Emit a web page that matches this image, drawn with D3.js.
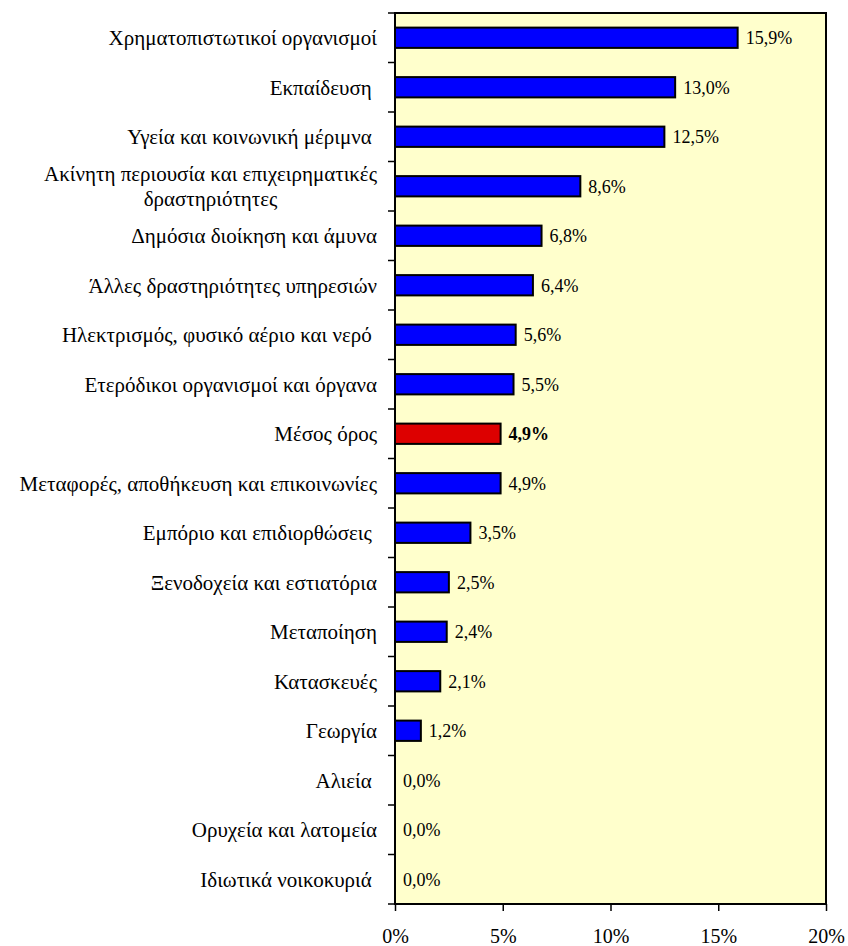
<!DOCTYPE html>
<meta charset="utf-8">
<script src="https://d3js.org/d3.v7.min.js"></script>
<style>
  body { margin: 0; background: #fff; }
  text { font-family: "Liberation Serif", "Times New Roman", serif; fill: #000; }
</style>
<div id="chart"></div>
<script>

// categories (top to bottom) and their shares
var categories = [
  "Χρηματοπιστωτικοί οργανισμοί",
  "Εκπαίδευση ",
  "Υγεία και κοινωνική μέριμνα ",
  "Ακίνητη περιουσία και επιχειρηματικές|δραστηριότητες",
  "Δημόσια διοίκηση και άμυνα",
  "Άλλες δραστηριότητες υπηρεσιών",
  "Ηλεκτρισμός, φυσικό αέριο και νερό ",
  "Ετερόδικοι οργανισμοί και όργανα",
  "Μέσος όρος",
  "Μεταφορές, αποθήκευση και επικοινωνίες",
  "Εμπόριο και επιδιορθώσεις ",
  "Ξενοδοχεία και εστιατόρια",
  "Μεταποίηση",
  "Κατασκευές",
  "Γεωργία",
  "Αλιεία ",
  "Ορυχεία και λατομεία",
  "Ιδιωτικά νοικοκυριά "
];
var values = [15.9, 13.0, 12.5, 8.6, 6.8, 6.4, 5.6, 5.5, 4.9, 4.9, 3.5, 2.5, 2.4, 2.1, 1.2, 0.0, 0.0, 0.0];
var averageLabel = "Μέσος όρος";
var xTicks = [0, 5, 10, 15, 20];

var W = 848, H = 946;
var margin = {top: 13, right: 22, bottom: 42, left: 395},
    width = W - margin.left - margin.right,
    height = H - margin.top - margin.bottom;

var svg = d3.select("#chart").append("svg")
    .attr("width", W).attr("height", H)
  .append("g")
    .attr("transform", "translate(" + margin.left + "," + margin.top + ")");

var x = d3.scaleLinear().domain([0, 20]).range([0, width]);
var y = d3.scaleBand().domain(categories).range([0, height]).paddingInner(0.59).paddingOuter(0.295);

var fmt = function(v) { return v.toFixed(1).replace(".", ",") + "%"; };

// plot background
svg.append("rect")
  .attr("width", width).attr("height", height)
  .attr("fill", "#ffffcc");

// bars
svg.selectAll(".bar")
  .data(values)
  .enter().append("rect")
    .attr("x", 0)
    .attr("y", function(d, i) { return y(categories[i]); })
    .attr("width", function(d) { return x(d); })
    .attr("height", y.bandwidth())
    .attr("fill", function(d, i) { return categories[i] === averageLabel ? "#dd0000" : "#0000ff"; })
    .attr("stroke", "#000")
    .attr("stroke-width", function(d) { return d > 0 ? 2 : 0; });

// value labels
svg.selectAll(".val")
  .data(values)
  .enter().append("text")
    .attr("x", function(d) { return x(d) + 8; })
    .attr("y", function(d, i) { return y(categories[i]) + y.bandwidth() / 2; })
    .attr("dy", "0.35em")
    .style("font-size", "18px")
    .style("font-weight", function(d, i) { return categories[i] === averageLabel ? "bold" : "normal"; })
    .text(fmt);

// frame
svg.append("rect")
  .attr("width", width).attr("height", height)
  .attr("fill", "none").attr("stroke", "#000").attr("stroke-width", 2);

// category ticks on band boundaries
svg.selectAll(".ytick")
  .data(d3.range(categories.length + 1))
  .enter().append("line")
    .attr("x1", -7).attr("x2", 0)
    .attr("y1", function(i) { return i * height / categories.length; })
    .attr("y2", function(i) { return i * height / categories.length; })
    .attr("stroke", "#000").attr("stroke-width", 1.5);

// category labels (two-line label is centred as a block)
var labelRight = -18;
svg.selectAll(".cat")
  .data(categories)
  .enter().append("text")
    .attr("xml:space", "preserve")
    .style("white-space", "pre")
    .style("font-size", "21px")
    .attr("transform", function(d) { return "translate(0," + (y(d) + y.bandwidth() / 2) + ")"; })
    .each(function(d) {
      var lines = d.split("|");
      var t = d3.select(this);
      if (lines.length === 1) {
        t.attr("text-anchor", "end").append("tspan")
          .attr("x", labelRight).attr("dy", "0.35em").text(d);
        return;
      }
      var first = t.append("tspan").attr("text-anchor", "end")
        .attr("x", labelRight).attr("y", -12.5).attr("dy", "0.35em").text(lines[0]);
      var w = first.node().getComputedTextLength();
      t.append("tspan").attr("text-anchor", "middle")
        .attr("x", labelRight - w / 2).attr("y", 12.5).attr("dy", "0.35em").text(lines[1]);
    });

// x axis
var xAxis = svg.append("g")
  .attr("transform", "translate(0," + height + ")")
  .call(d3.axisBottom(x).tickValues(xTicks).tickSize(7).tickSizeOuter(0)
        .tickFormat(function(d) { return d + "%"; }));
xAxis.select(".domain").remove();
xAxis.selectAll("line").attr("stroke-width", 1.5);
xAxis.selectAll("text")
  .style("font-family", '"Liberation Serif", "Times New Roman", serif')
  .style("font-size", "20px")
  .attr("dy", "1.45em");

</script>
